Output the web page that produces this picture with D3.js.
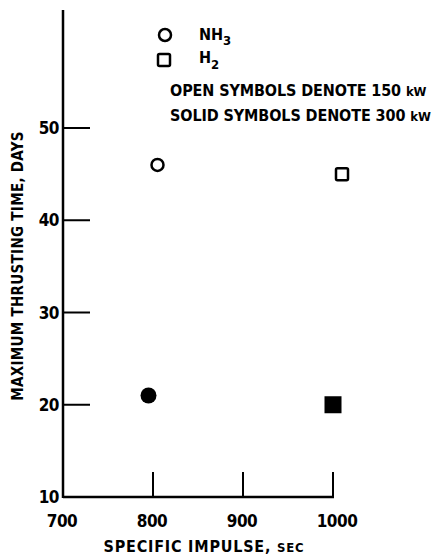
<!DOCTYPE html>
<html>
<head>
<meta charset="utf-8">
<script src="https://cdn.jsdelivr.net/npm/d3@7"></script>
<style>
  body { margin: 0; background: #fff; }
  svg text { font-family: "DejaVu Sans Condensed", "Liberation Sans Narrow", sans-serif; font-weight: bold; fill: #000; }
</style>
</head>
<body>
<svg id="chart" width="432" height="559"></svg>
<script>
/* ---------------------------------------------------
   Data
--------------------------------------------------- */

const propellants = ["NH3", "H2"];
const powers = [150, 300];
const impulse = [805, 1010, 795, 1000];       // sec
const thrustDays = [46, 45, 21, 20];          // days
const pointProp = ["NH3", "H2", "NH3", "H2"];
const pointPower = [150, 150, 300, 300];

const xTicks = [700, 800, 900, 1000];
const yTicks = [10, 20, 30, 40, 50];

/* ---------------------------------------------------
   Setup
--------------------------------------------------- */

const svg = d3.select("#chart");
const mLeft = 63, mBottom = 497, mRight = 333, mTop = 10;

const x = d3.scaleLinear().domain([700, 1000]).range([mLeft, mRight]);
const y = d3.scaleLinear().domain([10, 50]).range([mBottom, 128]);

// axes lines
svg.append("line")
  .attr("x1", mLeft).attr("x2", mLeft)
  .attr("y1", mTop).attr("y2", mBottom + 1)
  .attr("stroke", "#000").attr("stroke-width", 2.5);
svg.append("line")
  .attr("x1", mLeft).attr("x2", x(1000) + 1)
  .attr("y1", mBottom).attr("y2", mBottom)
  .attr("stroke", "#000").attr("stroke-width", 2.5);

// y ticks (inward)
const yAxis = svg.append("g");
yAxis.selectAll("line")
  .data(yTicks.filter(d => d > 10))
  .join("line")
  .attr("x1", mLeft).attr("x2", mLeft + 27)
  .attr("y1", d => y(d)).attr("y2", d => y(d))
  .attr("stroke", "#000").attr("stroke-width", 2);
yAxis.selectAll("text")
  .data(yTicks)
  .join("text")
  .attr("x", mLeft - 4)
  .attr("y", d => y(d) + 6)
  .attr("text-anchor", "end")
  .attr("font-size", 17)
  .attr("letter-spacing", -0.5)
  .text(d => d);

// x ticks (inward)
const xAxis = svg.append("g");
xAxis.selectAll("line")
  .data(xTicks.filter(d => d > 700))
  .join("line")
  .attr("x1", d => x(d)).attr("x2", d => x(d))
  .attr("y1", mBottom).attr("y2", mBottom - 25)
  .attr("stroke", "#000").attr("stroke-width", 2);
xAxis.selectAll("text")
  .data(xTicks)
  .join("text")
  .attr("x", d => x(d) + (d === 1000 ? 4 : -1))
  .attr("y", 527)
  .attr("text-anchor", "middle")
  .attr("font-size", 17)
  .attr("letter-spacing", -0.5)
  .text(d => d);

// axis titles
const xt = svg.append("text")
  .attr("x", 204).attr("y", 552)
  .attr("text-anchor", "middle")
  .attr("font-size", 16)
  .attr("letter-spacing", 0.8);
xt.append("tspan").text("SPECIFIC IMPULSE, ");
xt.append("tspan").attr("font-size", 13).text("SEC");

svg.append("text")
  .attr("transform", "translate(23,266) rotate(-90)")
  .attr("text-anchor", "middle")
  .attr("font-size", 15)
  .attr("letter-spacing", 0.3)
  .text("MAXIMUM THRUSTING TIME, DAYS");

/* ---------------------------------------------------
   Points
--------------------------------------------------- */

const pts = impulse.map((v, i) => ({
  x: v, y: thrustDays[i], prop: pointProp[i], power: pointPower[i]
}));

function drawSymbol(g, prop, solid, cx, cy) {
  if (prop === "NH3") {
    const r = solid ? 8 : 6;
    g.append("circle")
      .attr("cx", cx).attr("cy", cy).attr("r", r)
      .attr("fill", solid ? "#000" : "none")
      .attr("stroke", "#000").attr("stroke-width", solid ? 0 : 2.5);
  } else {
    const s = solid ? 17 : 12;
    g.append("rect")
      .attr("x", cx - s / 2).attr("y", cy - s / 2)
      .attr("width", s).attr("height", s)
      .attr("rx", solid ? 0 : 1.5)
      .attr("fill", solid ? "#000" : "none")
      .attr("stroke", "#000").attr("stroke-width", solid ? 0 : 2.5);
  }
}

const marks = svg.append("g");
pts.forEach(d => drawSymbol(marks, d.prop, d.power === powers[1], x(d.x), y(d.y)));

/* ---------------------------------------------------
   Legend
--------------------------------------------------- */

const legend = svg.append("g");
drawSymbol(legend, propellants[0], false, 165, 35);
drawSymbol(legend, propellants[1], false, 164, 60);

const t1 = legend.append("text").attr("x", 199).attr("y", 40).attr("font-size", 16);
t1.append("tspan").text("NH");
t1.append("tspan").attr("font-size", 13).attr("dy", 5).text("3");

const t2 = legend.append("text").attr("x", 199).attr("y", 63).attr("font-size", 16);
t2.append("tspan").text("H");
t2.append("tspan").attr("font-size", 13).attr("dy", 6).text("2");

[["OPEN SYMBOLS DENOTE " + powers[0] + " ", 96], ["SOLID SYMBOLS DENOTE " + powers[1] + " ", 121]]
  .forEach(([txt, yy]) => {
    const t = legend.append("text").attr("x", 170).attr("y", yy)
      .attr("font-size", 16).attr("letter-spacing", -0.1);
    t.append("tspan").text(txt);
    t.append("tspan").attr("font-size", 13).text("kW");
  });
</script>
</body>
</html>
